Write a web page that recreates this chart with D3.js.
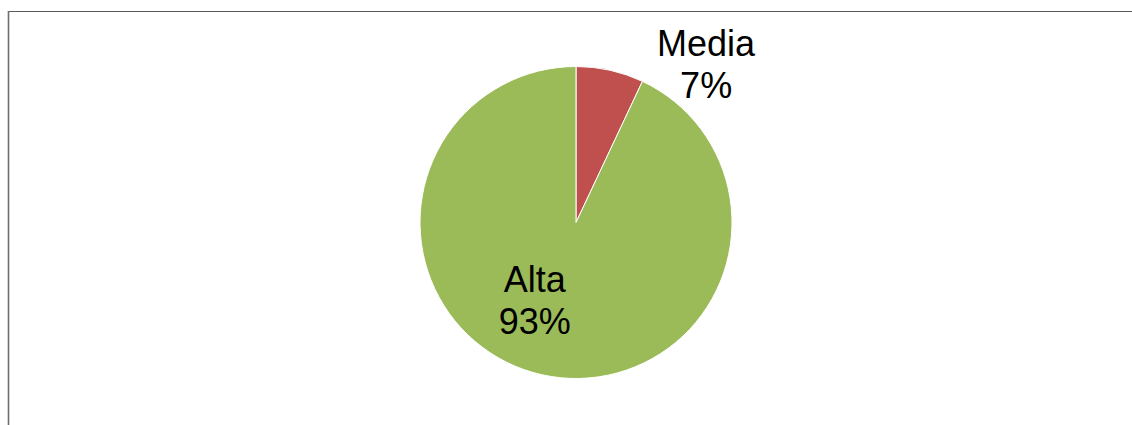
<!DOCTYPE html>
<html>
<head>
<meta charset="utf-8">
<script src="https://cdn.jsdelivr.net/npm/d3@7"></script>
<style>
  html, body { margin: 0; padding: 0; background: #fff; }
  svg { display: block; }
</style>
</head>
<body>
<svg id="chart" width="1132" height="425"></svg>
<script>
// Share of ratings by level
const categories = ["Media", "Alta"];
const values = [7, 93];
const colors = ["#C0504D", "#9BBB59"];

const W = 1132, H = 425;
const svg = d3.select("#chart");

// Chart frame (top and left edges visible)
svg.append("line")
  .attr("x1", 8).attr("x2", 1132).attr("y1", 11.5).attr("y2", 11.5)
  .attr("stroke", "#5a5a5a").attr("stroke-width", 1.2);
svg.append("line")
  .attr("x1", 8.5).attr("x2", 8.5).attr("y1", 11).attr("y2", H)
  .attr("stroke", "#6e6e6e").attr("stroke-width", 1.6);

const cx = 576, cy = 222.5, R = 156;
const total = d3.sum(values);

const pie = d3.pie().sort(null).value(d => d.value);
const arcs = pie(categories.map((c, i) => ({ name: c, value: values[i], color: colors[i] })));
const arc = d3.arc().innerRadius(0).outerRadius(R);

const g = svg.append("g").attr("transform", `translate(${cx},${cy})`);

g.selectAll("path.slice")
  .data(arcs)
  .enter().append("path")
  .attr("class", "slice")
  .attr("d", arc)
  .attr("fill", d => d.data.color)
  .attr("stroke", "#fff")
  .attr("stroke-width", 1);

// Label placement: polar position (angle in degrees clockwise from top, radius)
const labelPos = {
  "Media": { angle: 39.4, r: 205 },
  "Alta": { angle: 208, r: 88 }
};

const fmt = d => Math.round(d.value / total * 100) + "%";

const labels = g.selectAll("text.lbl")
  .data(arcs)
  .enter().append("text")
  .attr("class", "lbl")
  .attr("text-anchor", "middle")
  .attr("font-family", "'Liberation Sans', Arial, sans-serif")
  .attr("font-size", 36)
  .attr("fill", "#000")
  .attr("transform", d => {
    const p = labelPos[d.data.name];
    const a = p.angle * Math.PI / 180;
    return `translate(${p.r * Math.sin(a)},${-p.r * Math.cos(a)})`;
  });

labels.append("tspan")
  .attr("x", 0).attr("y", -8)
  .text(d => d.data.name);
labels.append("tspan")
  .attr("x", 0).attr("y", 34)
  .text(fmt);
</script>
</body>
</html>
